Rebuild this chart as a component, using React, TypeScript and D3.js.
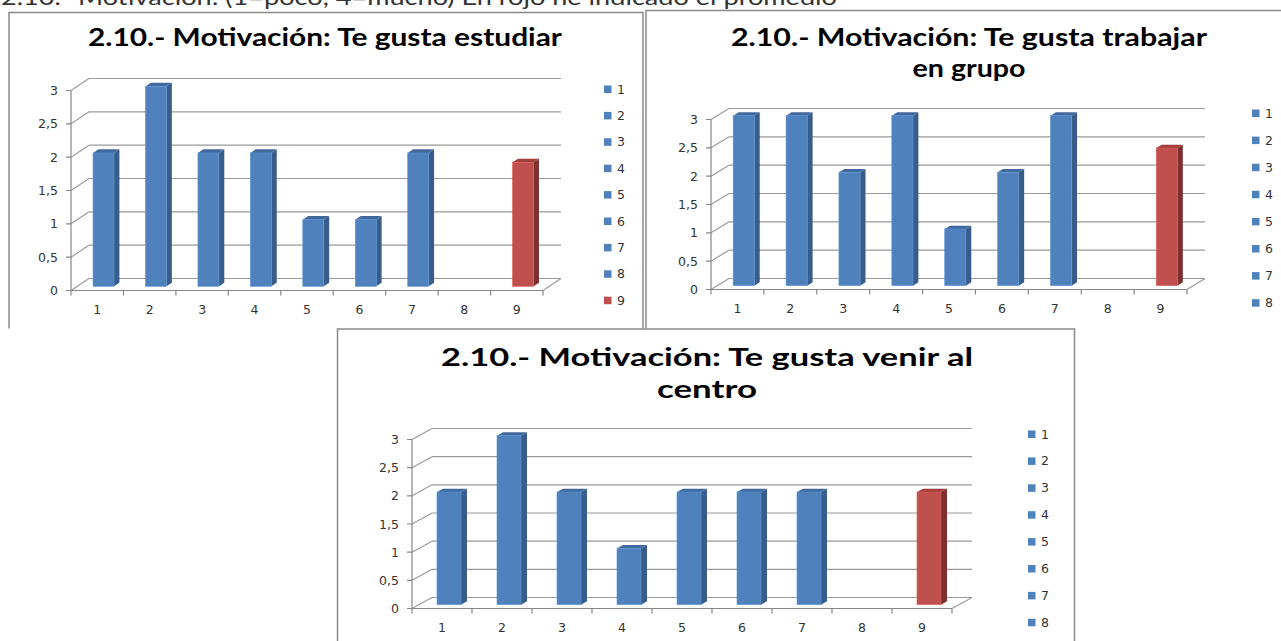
import React from 'react';
import * as d3 from 'd3';

// data (category 9 = average, drawn in red)
const categories = ['1', '2', '3', '4', '5', '6', '7', '8', '9'];
const averageCategory = '9';
const estudiarValues: (number | null)[] = [2, 3, 2, 2, 1, 1, 2, null, 1.86];
const trabajarValues: (number | null)[] = [3, 3, 2, 3, 1, 2, 3, null, 2.43];
const centroValues: (number | null)[] = [2, 3, 2, 1, 2, 2, 2, null, 2];
const yTickValues = [0, 0.5, 1, 1.5, 2, 2.5, 3];
const yTickLabels = ['0', '0,5', '1', '1,5', '2', '2,5', '3'];

const pageNote = '2.10.- Motivación: (1=poco, 4=mucho) En rojo he indicado el promedio';

const BLUE = { front: '#4f81bd', side: '#385d8a', top: '#41699c' };
const RED = { front: '#c0504d', side: '#7d302e', top: '#a03f3c' };
const GRID = '#9a9a9a';
const AXIS = '#868686';
const LABEL_FONT = '"DejaVu Sans", Verdana, sans-serif';
const TITLE_FONT = 'Lato, "Open Sans", sans-serif';

type ChartProps = {
  id: string;
  values: (number | null)[];
  frame: { x: number; y: number; w: number; h: number };
  clipH: number;
  title: string[];
  titleWidths: number[];
  titleX: number;
  titleY: number;
  titleDy: number;
  titleSize: number;
  x0: number;
  y0: number;
  plotW: number;
  yTop: number;
  ddx: number;
  ddy: number;
  legendX: number;
  legendY: number;
  legendStep: number;
  legendCount: number;
};

const Chart3D = (p: ChartProps) => {
  const x = d3.scaleBand<string>().domain(categories).range([p.x0, p.x0 + p.plotW]).padding(0);
  const y = d3.scaleLinear().domain([0, 3]).range([p.y0, p.yTop]);
  const step = x.step();

  // bars sit in the middle of the floor depth
  const f1 = 0.35;
  const depth = 0.3;
  const sdx = p.ddx * depth;
  const sdy = p.ddy * depth;

  const pts = (a: number[][]) => a.map(d => d.join(',')).join(' ');

  return (
    <g clipPath={`url(#clip-${p.id})`}>
      <defs>
        <clipPath id={`clip-${p.id}`}>
          <rect x={p.frame.x - 2} y={p.frame.y - 2} width={p.frame.w + 4} height={p.clipH} />
        </clipPath>
      </defs>
      <rect x={p.frame.x} y={p.frame.y} width={p.frame.w} height={p.frame.h}
        fill="#fff" stroke="#8a8a8a" strokeWidth={1.5} />

      {p.title.map((line, i) => (
        <text key={i} x={p.titleX} y={p.titleY + i * p.titleDy} textAnchor="middle"
          fontFamily={TITLE_FONT} fontWeight="bold" fontSize={p.titleSize} fill="#000"
          textLength={p.titleWidths[i]} lengthAdjust="spacingAndGlyphs">
          {line}
        </text>
      ))}

      {/* walls: gridlines on the back wall and diagonals on the side wall */}
      {yTickValues.map(v => (
        <g key={v}>
          <line x1={p.x0} y1={y(v)} x2={p.x0 + p.ddx} y2={y(v) + p.ddy} stroke={GRID} strokeWidth={1.2} />
          <line x1={p.x0 + p.ddx} y1={y(v) + p.ddy} x2={p.x0 + p.plotW + p.ddx} y2={y(v) + p.ddy}
            stroke={GRID} strokeWidth={1.2} />
          <line x1={p.x0 - 5} y1={y(v)} x2={p.x0} y2={y(v)} stroke={AXIS} strokeWidth={1.2} />
        </g>
      ))}
      {/* floor right edge */}
      <line x1={p.x0 + p.plotW} y1={p.y0} x2={p.x0 + p.plotW + p.ddx} y2={p.y0 + p.ddy} stroke={GRID} strokeWidth={1.2} />

      {/* bars */}
      {categories.map((c, i) => {
        const v = p.values[i];
        if (v == null) return null;
        const col = c === averageCategory ? RED : BLUE;
        const xl = (x(c) as number) + step * 0.3 + f1 * p.ddx;
        const xr = xl + step * 0.4;
        const yt = y(v) + f1 * p.ddy;
        const yb = p.y0 + f1 * p.ddy;
        return (
          <g key={c}>
            <polygon points={pts([[xr, yt], [xr + sdx, yt + sdy], [xr + sdx, yb + sdy], [xr, yb]])} fill={col.side} />
            <polygon points={pts([[xl, yt], [xl + sdx, yt + sdy], [xr + sdx, yt + sdy], [xr, yt]])} fill={col.top} />
            <rect x={xl} y={yt} width={xr - xl} height={yb - yt} fill={col.front}
              stroke={d3.color(col.front)!.brighter(0.4).toString()} strokeWidth={0.6} />
          </g>
        );
      })}

      {/* axes */}
      <line x1={p.x0} y1={p.y0} x2={p.x0} y2={y(3)} stroke={AXIS} strokeWidth={1.2} />
      <line x1={p.x0} y1={p.y0} x2={p.x0 + p.plotW} y2={p.y0} stroke={AXIS} strokeWidth={1.2} />
      {categories.concat(['end']).map((c, i) => (
        <line key={c} x1={p.x0 + i * step} y1={p.y0} x2={p.x0 + i * step} y2={p.y0 + 5} stroke={AXIS} strokeWidth={1.2} />
      ))}
      {yTickValues.map((v, i) => (
        <text key={v} x={p.x0 - 13} y={y(v)} dy="0.36em" textAnchor="end"
          fontFamily={LABEL_FONT} fontSize={12.5} fill="#333">{yTickLabels[i]}</text>
      ))}
      {categories.map(c => (
        <text key={c} x={(x(c) as number) + step / 2} y={p.y0 + 19} dy="0.36em" textAnchor="middle"
          fontFamily={LABEL_FONT} fontSize={12.5} fill="#333">{c}</text>
      ))}

      {/* legend (the cropped pictures only show part of it) */}
      {categories.slice(0, p.legendCount).map((c, i) => (
        <g key={c} transform={`translate(${p.legendX},${p.legendY + i * p.legendStep})`}>
          <rect x={0} y={-3.5} width={7.5} height={7.5} fill={c === averageCategory ? RED.front : BLUE.front} />
          <text x={13} y={0} dy="0.36em" fontFamily={LABEL_FONT} fontSize={12.5} fill="#333">{c}</text>
        </g>
      ))}
    </g>
  );
};

const App = () => {
  return (
    <svg width={1281} height={641} style={{ position: 'absolute', left: 0, top: 0, background: '#fff' }}>
      <rect width={1281} height={641} fill="#fff" />
      <text x={1} y={4.5} fontFamily={TITLE_FONT} fontSize={21} fill="#333"
        textLength={836} lengthAdjust="spacingAndGlyphs">{pageNote}</text>

      <Chart3D id="estudiar" values={estudiarValues}
        frame={{ x: 9, y: 12.5, w: 634, h: 400 }} clipH={318}
        title={['2.10.- Motivación: Te gusta estudiar']} titleWidths={[474]}
        titleX={325} titleY={46} titleDy={30} titleSize={25}
        x0={71} y0={290.5} plotW={472} yTop={90.5} ddx={18} ddy={-12}
        legendX={604} legendY={89} legendStep={26.4} legendCount={9} />

      <Chart3D id="trabajar" values={trabajarValues}
        frame={{ x: 646, y: 10.5, w: 700, h: 400 }} clipH={320}
        title={['2.10.- Motivación: Te gusta trabajar', 'en grupo']} titleWidths={[476, 113]}
        titleX={969} titleY={46} titleDy={31} titleSize={25}
        x0={711} y0={289.5} plotW={476} yTop={119.5} ddx={18} ddy={-11}
        legendX={1252} legendY={113} legendStep={27.1} legendCount={8} />

      <Chart3D id="centro" values={centroValues}
        frame={{ x: 337.5, y: 329, w: 737, h: 400 }} clipH={400}
        title={['2.10.- Motivación: Te gusta venir al', 'centro']} titleWidths={[532, 100]}
        titleX={707} titleY={366} titleDy={32} titleSize={25}
        x0={412} y0={608.5} plotW={540} yTop={439.5} ddx={20} ddy={-11}
        legendX={1028} legendY={434} legendStep={26.9} legendCount={8} />
    </svg>
  );
};

export default App;
